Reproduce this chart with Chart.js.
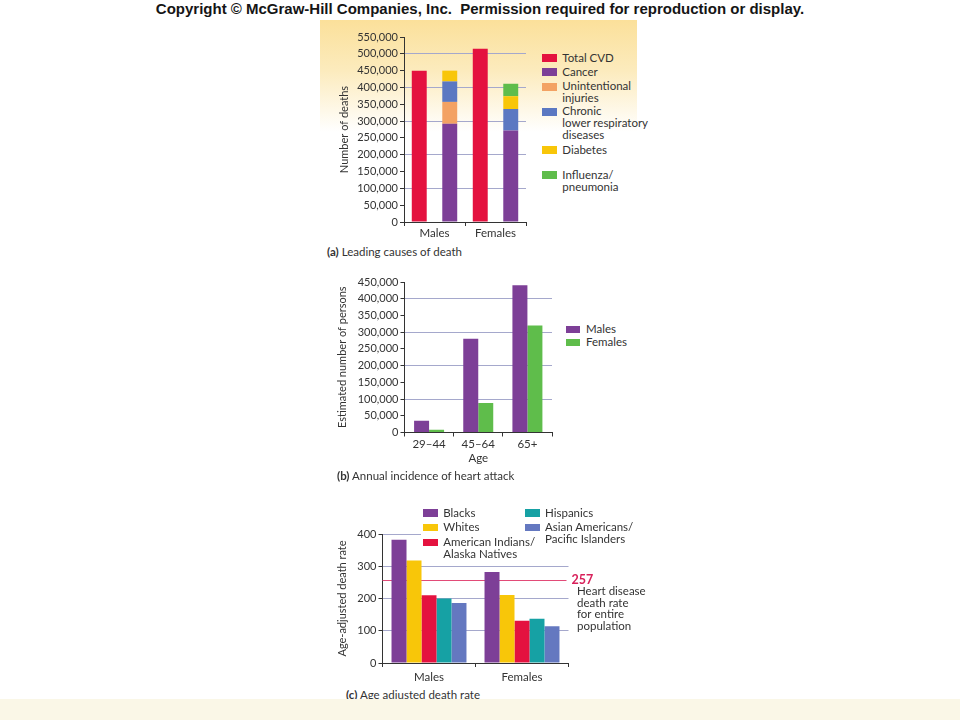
<!DOCTYPE html>
<html>
<head>
<meta charset="utf-8">
<script src="https://cdn.jsdelivr.net/npm/chart.js@4.4.1/dist/chart.umd.min.js"></script>
<style>
  body { margin: 0; width: 960px; height: 720px; position: relative; overflow: hidden; background: #fff;
         font-family: Lato, 'Open Sans', sans-serif; color: #333; }
  #header { position: absolute; left: 0; top: 0; width: 960px; text-align: center; line-height: 18px;
            font: bold 15px 'Liberation Sans', Arial, sans-serif; color: #151515; }
  #glow { position: absolute; left: 320px; top: 20px; width: 317px; height: 112px;
          background: linear-gradient(#fbe09a, #fcebbd 45%, #fff); }
  canvas { position: absolute; }
  .sw { position: absolute; width: 15px; height: 8px; }
  .lt { position: absolute; font-size: 11.5px; line-height: 12px; white-space: pre; }
  .cap { position: absolute; font-size: 11.5px; line-height: 13px; white-space: nowrap; }
  #legC { position: absolute; left: 421px; top: 503px; width: 200px; height: 56px; background: #fff; }
  #band { position: absolute; left: 0; top: 699px; width: 960px; height: 21px; background: #faf7e7; }
</style>
</head>
<body>
<div id="header">Copyright © McGraw-Hill Companies, Inc.&nbsp; Permission required for reproduction or display.</div>
<div id="glow"></div>
<canvas id="chartA" width="210" height="220" style="left:330px;top:25px"></canvas>
<canvas id="chartB" width="227" height="198" style="left:330px;top:272px"></canvas>
<canvas id="chartC" width="330" height="161" style="left:330px;top:524px"></canvas>
<div id="legC"></div>
<div class="cap" style="left:327px;top:245px"><b>(a)</b> Leading causes of death</div>
<div class="cap" style="left:337px;top:469px"><b>(b)</b> Annual incidence of heart attack</div>
<div class="cap" style="left:346px;top:688px"><b>(c)</b> Age adjusted death rate</div>
<div id="band"></div>
<script>
// (a) leading causes of death
var sexes = ['Males', 'Females'];
var causeNames = ['Total CVD', 'Cancer', 'Unintentional\ninjuries', 'Chronic\nlower respiratory\ndiseases', 'Diabetes', 'Influenza/\npneumonia'];
var totalCvd = [450000, 515000];
var cancer = [292000, 272000];
var injuries = [65000, null];
var respiratory = [61000, 64000];
var diabetes = [32000, 38000];
var influenza = [null, 37000];

// (b) annual incidence of heart attack
var ageGroups = ['29\u201344', '45\u201364', '65+'];
var maleAttacks = [35000, 280000, 440000];
var femaleAttacks = [8000, 88000, 320000];

// (c) age adjusted death rate
var groupNames = ['Blacks', 'Whites', 'American Indians/\nAlaska Natives', 'Hispanics', 'Asian Americans/\nPacific Islanders'];
var blacks = [382, 282];
var whites = [318, 211];
var amIndians = [210, 131];
var hispanics = [200, 137];
var asians = [186, 114];
var populationRate = 257;

var purple = '#7d3f97', red = '#e4123f', orange = '#f3a263', blue = '#5b78c2',
    yellow = '#f8c609', green = '#5fbd4b', teal = '#16a1a4', slate = '#6478c0';
var gridBlue = '#a5a8cc', axisCol = '#333';

Chart.defaults.font.family = "Lato, 'Open Sans', sans-serif";
Chart.defaults.font.size = 11;
Chart.defaults.color = '#333';
Chart.defaults.animation = false;
Chart.defaults.plugins.legend.display = false;
Chart.defaults.plugins.tooltip.enabled = false;

function yAxis(max, step, gridStep, title, width, titlePad) {
    return {
        min: 0, max: max, stacked: true,
        afterFit: function(s) { s.width = width; },
        ticks: { stepSize: step, padding: 2, autoSkip: false, font: { size: 11 },
                 callback: function(v) { return v.toLocaleString('en-US'); } },
        grid: {
            tickLength: 4, tickColor: axisCol,
            color: function(c) { var v = c.tick.value; return (v > 0 && v % gridStep === 0) ? gridBlue : 'rgba(0,0,0,0)'; }
        },
        border: { color: axisCol },
        title: { display: true, text: title, font: { size: 11 }, padding: { top: titlePad, bottom: 0 } }
    };
}
function xAxis(height, pad, title) {
    return {
        stacked: true,
        afterFit: function(s) { s.height = height; },
        ticks: { padding: pad, font: { size: 11.5 } },
        grid: { drawOnChartArea: false, tickLength: 4, tickColor: axisCol, offset: true },
        border: { color: axisCol },
        title: title ? { display: true, text: title, font: { size: 11.5 }, padding: { top: 0, bottom: 5 } } : { display: false }
    };
}

new Chart(document.getElementById('chartA'), {
    type: 'bar',
    data: {
        labels: sexes,
        datasets: [
            { label: causeNames[0], data: totalCvd, backgroundColor: red, stack: 'cvd' },
            { label: causeNames[1], data: cancer, backgroundColor: purple, stack: 'other' },
            { label: causeNames[2], data: injuries, backgroundColor: orange, stack: 'other' },
            { label: causeNames[3], data: respiratory, backgroundColor: blue, stack: 'other' },
            { label: causeNames[4], data: diabetes, backgroundColor: yellow, stack: 'other' },
            { label: causeNames[5], data: influenza, backgroundColor: green, stack: 'other' }
        ]
    },
    options: {
        responsive: false,
        layout: { padding: { top: 12, right: 14, left: 0, bottom: 0 } },
        datasets: { bar: { categoryPercentage: 1, barPercentage: 0.49 } },
        scales: { x: xAxis(23, 0), y: yAxis(550000, 50000, 100000, 'Number of deaths', 74, 8) }
    }
});

new Chart(document.getElementById('chartB'), {
    type: 'bar',
    data: {
        labels: ageGroups,
        datasets: [
            { label: 'Males', data: maleAttacks, backgroundColor: purple },
            { label: 'Females', data: femaleAttacks, backgroundColor: green }
        ]
    },
    options: {
        responsive: false,
        layout: { padding: { top: 10, right: 5, left: 0, bottom: 0 } },
        datasets: { bar: { categoryPercentage: 0.61, barPercentage: 1 } },
        scales: {
            x: Object.assign(xAxis(37.5, 1, 'Age'), { stacked: false }),
            y: Object.assign(yAxis(450000, 50000, 100000, 'Estimated number of persons', 74.5, 6), { stacked: false })
        }
    }
});

var refLine = {
    id: 'refLine',
    beforeDatasetsDraw: function(chart) {
        var ctx = chart.ctx, area = chart.chartArea;
        var py = Math.round(chart.scales.y.getPixelForValue(populationRate)) + 0.5;
        ctx.save();
        ctx.strokeStyle = '#e24b78';
        ctx.lineWidth = 1;
        ctx.beginPath();
        ctx.moveTo(area.left, py);
        ctx.lineTo(area.right - 2, py);
        ctx.stroke();
        ctx.restore();
    },
    afterDraw: function(chart) {
        var ctx = chart.ctx, area = chart.chartArea;
        var py = chart.scales.y.getPixelForValue(populationRate);
        ctx.save();
        ctx.textBaseline = 'middle';
        ctx.fillStyle = '#d8205a';
        ctx.font = "bold 12.5px Lato";
        ctx.fillText(String(populationRate), area.right + 3, py);
        ctx.fillStyle = '#333';
        ctx.font = "11.5px Lato";
        ['Heart disease', 'death rate', 'for entire', 'population'].forEach(function(t, i) {
            ctx.fillText(t, area.right + 8.5, py + 11.5 + i * 11.5);
        });
        ctx.restore();
    }
};

new Chart(document.getElementById('chartC'), {
    type: 'bar',
    data: {
        labels: sexes,
        datasets: [
            { label: groupNames[0], data: blacks, backgroundColor: purple },
            { label: groupNames[1], data: whites, backgroundColor: yellow },
            { label: groupNames[2], data: amIndians, backgroundColor: red },
            { label: groupNames[3], data: hispanics, backgroundColor: teal },
            { label: groupNames[4], data: asians, backgroundColor: slate }
        ]
    },
    options: {
        responsive: false,
        layout: { padding: { top: 10, right: 91.5, left: 0, bottom: 0 } },
        datasets: { bar: { categoryPercentage: 0.806, barPercentage: 1 } },
        scales: {
            x: Object.assign(xAxis(22, 3), { stacked: false }),
            y: Object.assign(yAxis(400, 100, 100, 'Age-adjusted death rate', 52.5, 6), { stacked: false })
        }
    },
    plugins: [refLine]
});

// legends
function legendItem(parent, sx, tx, cy, color, text, sw, sh) {
    var s = document.createElement('div');
    s.className = 'sw';
    s.style.cssText = 'left:' + sx + 'px;top:' + (cy - sh / 2) + 'px;width:' + sw + 'px;height:' + sh + 'px;background:' + color;
    var t = document.createElement('div');
    t.className = 'lt';
    t.style.left = tx + 'px';
    t.style.top = (cy - 6.5) + 'px';
    t.textContent = text;
    parent.appendChild(s);
    parent.appendChild(t);
}
var aColors = [red, purple, orange, blue, yellow, green];
var aRows = [58.3, 72.3, 86.5, 111.7, 150, 175];
causeNames.forEach(function(n, i) { legendItem(document.body, 541.7, 562.3, aRows[i], aColors[i], n, 15.6, 8); });

legendItem(document.body, 565.7, 586, 329.5, purple, 'Males', 14.5, 7.5);
legendItem(document.body, 565.7, 586, 342.5, green, 'Females', 14.5, 7.5);

var legC = document.getElementById('legC');
var cColors = [purple, yellow, red, teal, slate];
var cPos = [[2.3, 22.3, 10], [2.3, 22.3, 24.5], [2.3, 22.3, 39.5], [104, 124, 10], [104, 124, 24.5]];
groupNames.forEach(function(n, i) { legendItem(legC, cPos[i][0], cPos[i][1], cPos[i][2], cColors[i], n, 15, 7.4); });
</script>
</body>
</html>
